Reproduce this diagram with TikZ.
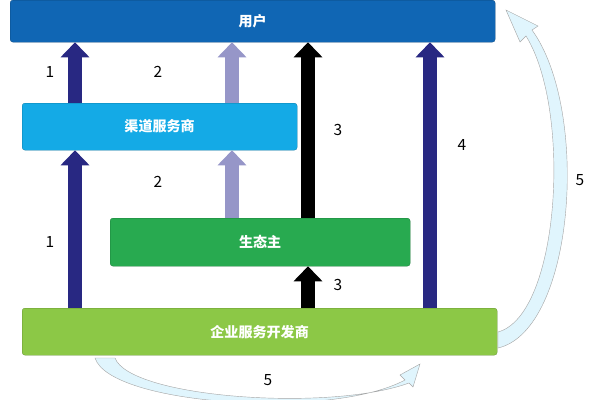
\documentclass[tikz,border=0pt]{standalone}
\usepackage{fontspec}
\setmainfont{Noto Sans CJK SC}
\usetikzlibrary{arrows.meta}
\begin{document}
\begin{tikzpicture}[x=0.05cm,y=-0.05cm,
 box/.style={draw=#1!70!black,fill=#1,rounded corners=4pt,text=white,font=\bfseries\fontsize{20}{24}\selectfont,inner sep=0pt,anchor=north west},
 barrow/.style={line width=0.7cm,draw=#1,-{Triangle[width=1.4cm,length=0.75cm]}},
 num/.style={font=\fontsize{22}{26}\selectfont},
 curv/.style={fill=cyan!12,draw=gray!70,line width=0.6pt}]
\useasboundingbox (0,0) rectangle (600,400);
\definecolor{ublue}{RGB}{16,102,180}
\definecolor{qblue}{RGB}{20,170,230}
\definecolor{sgreen}{RGB}{40,170,80}
\definecolor{lgreen}{RGB}{140,200,70}
\definecolor{navy}{RGB}{40,40,130}
\definecolor{lpurple}{RGB}{150,150,200}
\node[box=ublue,minimum width=485*0.05cm,minimum height=42*0.05cm] (u) at (10,0) {用户};
\node[box=qblue,minimum width=275*0.05cm,minimum height=47*0.05cm] (q) at (22,103) {渠道服务商};
\node[box=sgreen,minimum width=300*0.05cm,minimum height=48*0.05cm] (s) at (110,218) {生态主};
\node[box=lgreen,minimum width=475*0.05cm,minimum height=47*0.05cm] (e) at (22,308) {企业服务开发商};
\coordinate (x1) at (75,0); \coordinate (x2) at (232,0); \coordinate (x3) at (308,0); \coordinate (x4) at (430,0);
\draw[barrow=navy] (e.north -| x1) -- (q.south -| x1);
\draw[barrow=navy] (q.north -| x1) -- (u.south -| x1);
\draw[barrow=lpurple] (s.north -| x2) -- (q.south -| x2);
\draw[barrow=lpurple] (q.north -| x2) -- (u.south -| x2);
\draw[barrow=black] (s.north -| x3) -- (u.south -| x3);
\draw[barrow=black] (e.north -| x3) -- (s.south -| x3);
\draw[barrow=navy] (e.north -| x4) -- (u.south -| x4);
\node[num] (n1a) at (50,72) {1};
\node[num] (n1b) at (50,242) {1};
\node[num] (n2a) at (158,72) {2};
\node[num] (n2b) at (158,182) {2};
\node[num] (n3a) at (338,130) {3};
\node[num] (n3b) at (338,285) {3};
\node[num] (n4) at (462,145) {4};
\node[num] (n5a) at (580,180) {5};
\node[num] (n5b) at (268,380) {5};
\fill[curv] (498,348) .. controls (575,330) and (590,110) .. (532,30) -- (538,26) -- (506,10) -- (520,42) -- (526,36) .. controls (572,110) and (560,315) .. (498,332) -- cycle;
\fill[curv] (95,358) .. controls (110,405) and (330,420) .. (405,380) -- (400,375) -- (420,364) -- (413,387) -- (409,383) .. controls (330,412) and (130,398) .. (115,358) -- cycle;
\end{tikzpicture}
\end{document}
